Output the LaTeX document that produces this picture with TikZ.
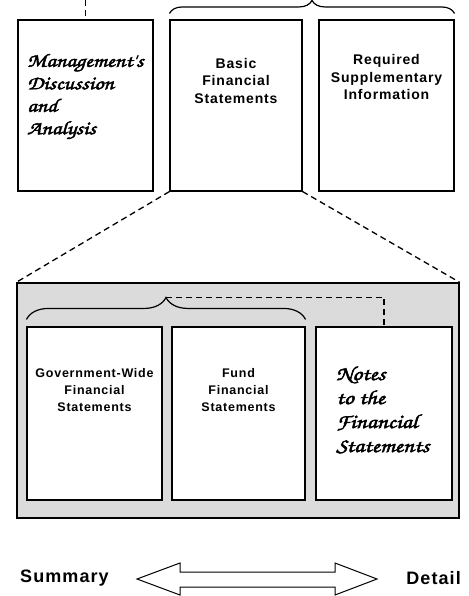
\documentclass[tikz,border=0pt]{standalone}
\usepackage{fontspec}
\setmainfont{Liberation Sans}
\newfontfamily\lblfont[LetterSpace=6]{Liberation Sans}
\newfontfamily\scrfont[FakeBold=2.5,FakeStretch=1.2]{texgyrechorus-mediumitalic.otf}
\usetikzlibrary{decorations.pathreplacing,calc}
\tikzset{
  box/.style={draw, line width=1.1pt, fill=white, inner sep=0pt},
  shaded/.style={draw, line width=1.4pt, fill=black!14, inner sep=0pt},
  toplabel/.style={align=center, inner sep=0pt, font=\lblfont\bfseries\fontsize{14}{17.5}\selectfont},
  lowlabel/.style={align=center, inner sep=0pt, font=\lblfont\bfseries\fontsize{12.5}{17}\selectfont},
  scriptlabel/.style={align=left, inner sep=0pt, anchor=west},
  dashline/.style={line width=1.3pt, dash pattern=on 6pt off 4pt},
  bracestyle/.style={line width=1.2pt, decorate},
  endlabel/.style={inner sep=0pt, font=\lblfont\bfseries\fontsize{18}{20}\selectfont},
}
\begin{document}
\begin{tikzpicture}[x=1pt,y=-1pt]
\useasboundingbox (0,0) rectangle (468,596);
% top row
\node[box, minimum width=135pt, minimum height=171pt] (mda) at (85.5,105.5) {};
\node[box, minimum width=132pt, minimum height=171pt] (bfs) at (236,105.5) {};
\node[box, minimum width=135pt, minimum height=171pt] (rsi) at (386.5,105.5) {};
\node[scriptlabel, font=\scrfont\fontsize{19}{22.5}\selectfont] (mdatext) at (27,96.5) {Management's\\Discussion\\and\\Analysis};
\node[toplabel] (bfstext) at (236,80.5) {Basic\\Financial\\Statements};
\node[toplabel] (rsitext) at (386.5,77) {Required\\Supplementary\\Information};
\coordinate (topend) at (85.5,0);
\draw[dashline] (topend) -- (mda.north);
\draw[bracestyle, decoration={brace, amplitude=13pt}] ([yshift=6pt]bfs.north west) -- ([yshift=6pt]rsi.north east);
% lower panel
\node[shaded, minimum width=442pt, minimum height=235pt] (outer) at (238,400.5) {};
\draw[dashline] (bfs.south west) -- (outer.north west);
\draw[dashline] (bfs.south east) -- (outer.north east);
\node[box, minimum width=135pt, minimum height=173pt] (gw) at (94.5,413.5) {};
\node[box, minimum width=133pt, minimum height=173pt] (fund) at (238.5,413.5) {};
\node[box, minimum width=136pt, minimum height=173pt] (notes) at (384,413.5) {};
\node[lowlabel] (gwtext) at (94.5,390) {Government-Wide\\Financial\\Statements};
\node[lowlabel] (fundtext) at (238.5,390) {Fund\\Financial\\Statements};
\node[scriptlabel, font=\scrfont\fontsize{20}{24}\selectfont] (notestext) at (336,410) {Notes\\to the\\Financial\\Statements};
\draw[bracestyle, decoration={brace, amplitude=22pt}] ([yshift=7pt]gw.north west) -- ([yshift=7pt]fund.north east);
\coordinate (btip) at ($([yshift=29pt]gw.north west)!0.5!([yshift=29pt]fund.north east)$);
\draw[dashline] (btip) -| (notes.north);
% bottom arrow
\node[endlabel, anchor=west] (summ) at (20,578) {Summary};
\node[endlabel, anchor=east] (det) at (461,578) {Detail};
\draw[line width=1pt, fill=white, line join=miter]
  (137,579) -- (180,563) -- (180,572) -- (335,572) -- (335,563) -- (377,579)
  -- (335,595) -- (335,587) -- (180,587) -- (180,595) -- cycle;
\end{tikzpicture}
\end{document}
